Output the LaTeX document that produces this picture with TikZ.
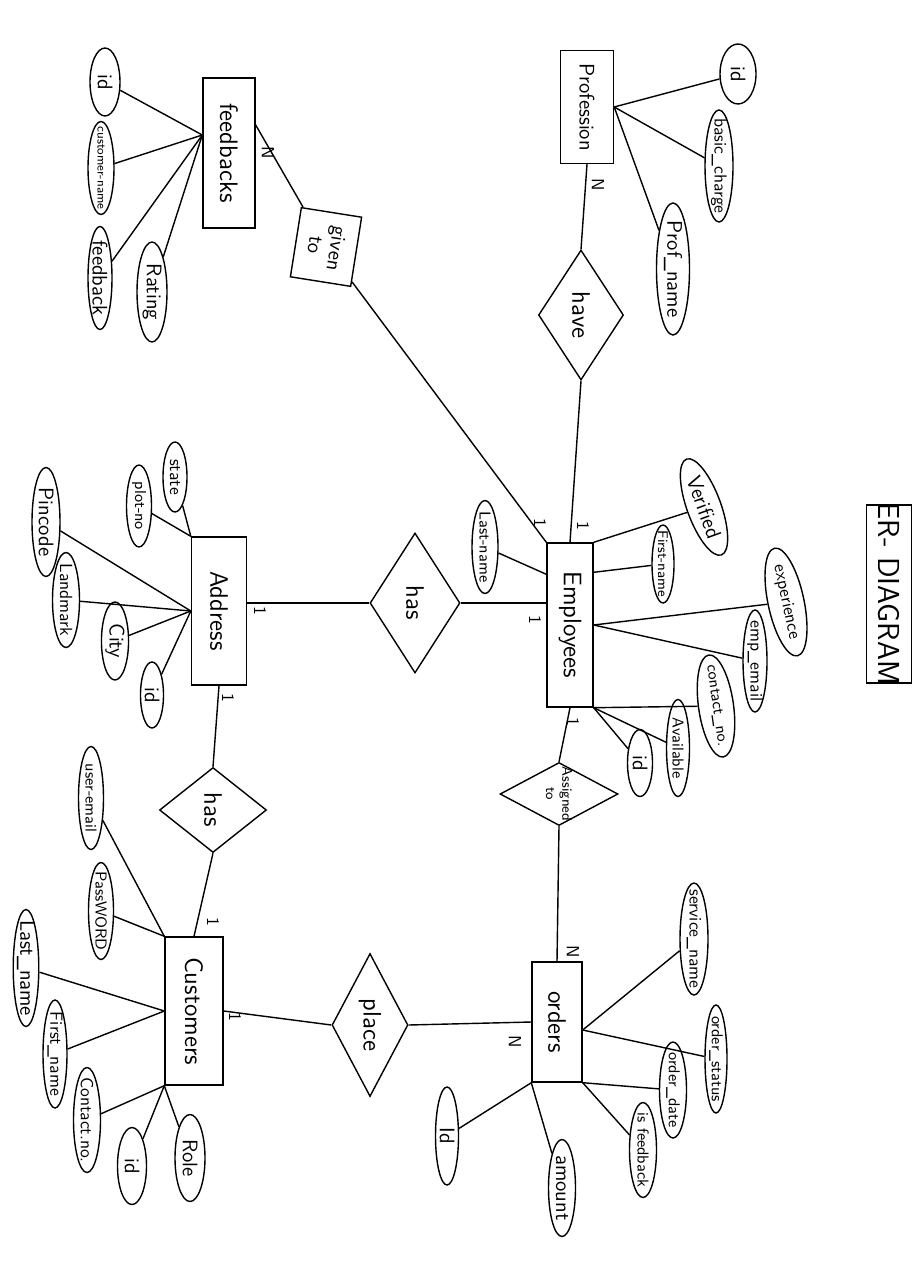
\documentclass[tikz,border=0pt]{standalone}
\usepackage{tikz}
\usetikzlibrary{shapes.geometric}
\usetikzlibrary{calc}

\newcommand{\vt}[1]{\rotatebox{-90}{\makebox[0pt]{#1}}}

\tikzset{
    sz/.style 2 args = {minimum width = #1*0.02cm, minimum height = #2*0.02cm},
    entity/.style = {draw, rectangle, inner sep = 0pt, font = \sffamily\Large},
    attr/.style = {draw, ellipse, inner sep = 0pt, font = \sffamily\large},
    rel/.style = {draw, diamond, inner sep = 0pt, font = \sffamily\Large},
    card/.style = {rotate = -90, font = \sffamily}
}

\begin{document}
\begin{tikzpicture}[x = 0.02cm, y = -0.02cm, line width = 0.8pt]
    \useasboundingbox (0,0) rectangle (922,1280);

    % entities
    \node[entity, sz = {52}{150}] (fb) at (229,153) {\vt{feedbacks}};
    \node[entity, sz = {53}{113}, font = \sffamily\large] (prof) at (587,107) {\vt{Profession}};
    \node[entity, sz = {46}{164}] (emp) at (570,625) {\vt{Employees}};
    \node[entity, sz = {55}{148}] (addr) at (219,611) {\vt{Address}};
    \node[entity, sz = {58}{148}] (cust) at (194,1011) {\vt{Customers}};
    \node[entity, sz = {50}{120}] (ord) at (557,1022) {\vt{orders}};

    % title
    \node[draw, sz = {45}{178}, font = \sffamily\LARGE] (title) at (889,594) {\vt{ER- DIAGRAM}};

    % relationships
    \node[draw, sz = {61}{70}, rotate = -9, inner sep = 0pt, font = \sffamily\large] (given) at (326,247) {\vt{\shortstack{given\\to}}};
    \node[rel, sz = {85}{130}] (have) at (581,315) {\vt{have}};
    \node[rel, sz = {90}{140}] (has1) at (415,603) {\vt{has}};
    \node[rel, sz = {107}{85}] (has2) at (213,810) {\vt{has}};
    \node[rel, sz = {76}{143}] (place) at (370,1025) {\vt{place}};
    \node[rel, sz = {118}{63}, font = \sffamily\footnotesize] (asg) at (559,794) {\vt{\shortstack{Assigned\\to}}};

    % feedbacks attributes
    \node[attr, sz = {30}{68}] (fid) at (105,82) {\vt{id}};
    \node[attr, sz = {26}{93}, font = \sffamily\scriptsize] (fcname) at (101,168) {\vt{customer-name}};
    \node[attr, sz = {24}{103}] (ffeed) at (100,278) {\vt{feedback}};
    \node[attr, sz = {30}{100}] (frating) at (152,292) {\vt{Rating}};

    % profession attributes
    \node[attr, sz = {36}{60}] (pid) at (738,74) {\vt{id}};
    \node[attr, sz = {28}{112}, font = \sffamily] (pcharge) at (719,166) {\vt{basic\_charge}};
    \node[attr, sz = {33}{132}] (pname) at (673,269) {\vt{Prof\_name}};

    % employees attributes
    \node[attr, sz = {34}{102}, rotate = 20] (everif) at (704,507) {\vt{Verified}};
    \node[attr, sz = {22}{78}, font = \sffamily\footnotesize] (efirst) at (663,564) {\vt{First-name}};
    \node[attr, sz = {36}{110}, rotate = 12, font = \sffamily] (eexp) at (786,602) {\vt{experience}};
    \node[attr, sz = {24}{102}, font = \sffamily] (eemail) at (755,661) {\vt{emp\_email}};
    \node[attr, sz = {35}{103}, rotate = 8, font = \sffamily\small] (econtact) at (716,706) {\vt{contact\_no.}};
    \node[attr, sz = {23}{97}, font = \sffamily\small] (eavail) at (678,748) {\vt{Available}};
    \node[attr, sz = {25}{67}] (eid) at (640,763) {\vt{id}};
    \node[attr, sz = {26}{93}, font = \sffamily\small] (elast) at (485,547) {\vt{Last-name}};

    % address attributes
    \node[attr, sz = {24}{70}, font = \sffamily] (astate) at (175,477) {\vt{state}};
    \node[attr, sz = {25}{82}, font = \sffamily\small] (aplot) at (139,506) {\vt{plot-no}};
    \node[attr, sz = {28}{109}] (apin) at (46,522) {\vt{Pincode}};
    \node[attr, sz = {27}{95}, font = \sffamily] (aland) at (66,600) {\vt{Landmark}};
    \node[attr, sz = {24}{78}] (acity) at (115,641) {\vt{City}};
    \node[attr, sz = {23}{66}] (aid) at (152,695) {\vt{id}};

    % customers attributes
    \node[attr, sz = {25}{103}, font = \sffamily\small] (cemail) at (91,798) {\vt{user-email}};
    \node[attr, sz = {25}{97}, font = \sffamily\small] (cpass) at (101,911) {\vt{PassWORD}};
    \node[attr, sz = {22}{117}] (clast) at (26,968) {\vt{Last\_name}};
    \node[attr, sz = {24}{108}, font = \sffamily] (cfirst) at (55,1054) {\vt{First\_name}};
    \node[attr, sz = {27}{105}, font = \sffamily] (ccontact) at (87,1120) {\vt{Contact.no.}};
    \node[attr, sz = {29}{77}] (cid) at (132,1166) {\vt{id}};
    \node[attr, sz = {30}{87}] (crole) at (190,1158) {\vt{Role}};

    % orders attributes
    \node[attr, sz = {28}{112}, font = \sffamily] (oservice) at (694,939) {\vt{service\_name}};
    \node[attr, sz = {22}{108}, font = \sffamily\small] (ostatus) at (716,1059) {\vt{order\_status}};
    \node[attr, sz = {27}{96}, font = \sffamily\small] (odate) at (673,1090) {\vt{order\_date}};
    \node[attr, sz = {27}{95}, font = \sffamily\small] (ofeed) at (643,1150) {\vt{is feedback}};
    \node[attr, sz = {27}{97}] (oamount) at (562,1188) {\vt{amount}};
    \node[attr, sz = {23}{98}] (oid) at (447,1136) {\vt{Id}};

    % attribute lines
    \draw ($(fb.west)+(0,-18)$) -- (fid);
    \draw ($(fb.west)+(0,-18)$) -- (fcname);
    \draw ($(fb.west)+(0,-18)$) -- (ffeed);
    \draw ($(fb.west)+(0,-18)$) -- (frating);
    \draw (prof.east) -- (pid);
    \draw (prof.east) -- (pcharge);
    \draw (prof.east) -- (pname);
    \draw (emp.north east) -- (everif);
    \draw ($(emp.north east)+(0,30)$) -- (efirst);
    \draw (emp.east) -- (eexp);
    \draw (emp.east) -- (eemail);
    \draw (emp.south east) -- (econtact);
    \draw (emp.south east) -- (eavail);
    \draw (emp.south east) -- (eid);
    \draw ($(emp.north west)+(0,32)$) -- (elast);
    \draw (addr.north west) -- (astate);
    \draw (addr.north west) -- (aplot);
    \draw (addr.west) -- (apin);
    \draw (addr.west) -- (aland);
    \draw (addr.west) -- (acity);
    \draw (addr.west) -- (aid);
    \draw (cust.north west) -- (cemail);
    \draw (cust.north west) -- (cpass);
    \draw (cust.west) -- (clast);
    \draw (cust.west) -- (cfirst);
    \draw (cust.south west) -- (ccontact);
    \draw (cust.south west) -- (cid);
    \draw (cust.south west) -- (crole);
    \draw ($(ord.east)+(0,8)$) -- (oservice);
    \draw ($(ord.east)+(0,8)$) -- (ostatus);
    \draw (ord.south east) -- (odate);
    \draw (ord.south east) -- (ofeed);
    \draw (ord.south west) -- (oamount);
    \draw (ord.south west) -- (oid);

    % relationship lines
    \draw ($(fb.east)+(0,-28)$) -- (given);
    \draw (given) -- (emp.north west);
    \draw (prof.south) -- (have.north);
    \draw (have.south) -- (emp.north);
    \draw (has1.east) -- (has1.east -| emp.west);
    \draw (has1.west -| addr.east) -- (has1.west);
    \draw (addr.south) -- (has2.north);
    \draw (has2.south) -- (cust.north);
    \draw (cust.east) -- (place.west);
    \draw (place.east) -- (ord.west);
    \draw (emp.south) -- (asg.north);
    \draw (asg.south) -- (ord.north);

    % cardinalities
    \node[card] (k1) at (268,153) {N};
    \node[card] (k2) at (598,185) {N};
    \node[card] (k3) at (583,526) {1};
    \node[card] (k4) at (540,523) {1};
    \node[card] (k5) at (535,620) {1};
    \node[card] (k6) at (260,611) {1};
    \node[card] (k7) at (228,698) {1};
    \node[card] (k8) at (213,922) {1};
    \node[card] (k9) at (235,1017) {1};
    \node[card] (k10) at (515,1042) {N};
    \node[card] (k11) at (573,722) {1};
    \node[card] (k12) at (573,952) {N};
\end{tikzpicture}
\end{document}
